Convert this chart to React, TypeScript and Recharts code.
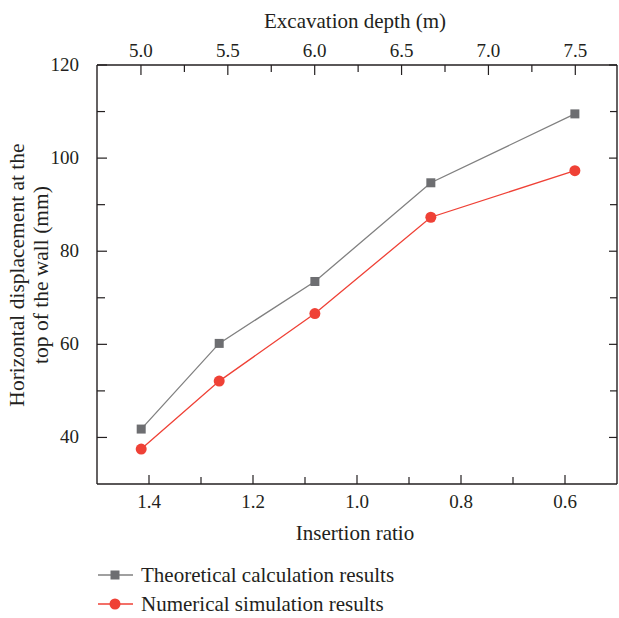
import React from "react";
import { LineChart, Line, XAxis, YAxis } from "recharts";

const RATIO = [1.415, 1.265, 1.081, 0.858, 0.581];
const DEPTH = [5.0, 5.45, 6.0, 6.67, 7.5];
const THEORETICAL = [41.8, 60.2, 73.5, 94.7, 109.5];
const NUMERICAL = [37.5, 52.1, 66.6, 87.3, 97.3];

const RATIO_TICKS = [1.4, 1.3, 1.2, 1.1, 1.0, 0.9, 0.8, 0.7, 0.6];
const DEPTH_TICKS = [5.0, 5.25, 5.5, 5.75, 6.0, 6.25, 6.5, 6.75, 7.0, 7.25, 7.5];
const DISP_TICKS = [40, 50, 60, 70, 80, 90, 100, 110, 120];

const data = RATIO.map((ratio, i) => ({
  ratio,
  depth: DEPTH[i],
  theoretical: THEORETICAL[i],
  numerical: NUMERICAL[i],
}));

const AXIS = "#231f20";
const GRAY = "#6d6e71";
const GRAY_LINE = "#808080";
const RED = "#ef4136";
const FONT = "'Liberation Serif', 'DejaVu Serif', serif";
const TICK_SIZE = 19;
const TITLE_SIZE = 21;

const isMajorRatio = (v: number) => Math.round(v * 10) % 2 === 0;
const isMajorDepth = (v: number) => Math.round(v * 100) % 50 === 0;
const isMajorDisp = (v: number) => v % 20 === 0;

function BottomTick({ x, y, payload }: any) {
  const major = isMajorRatio(payload.value);
  return (
    <g>
      <line x1={x} x2={x} y1={y} y2={y - (major ? 9 : 7)} stroke={AXIS} strokeWidth={1.2} />
      {major && (
        <text x={x} y={y + 24} textAnchor="middle" fontSize={TICK_SIZE} fill={AXIS} fontFamily={FONT}>
          {payload.value.toFixed(1)}
        </text>
      )}
    </g>
  );
}

function TopTick({ x, y, payload }: any) {
  const major = isMajorDepth(payload.value);
  return (
    <g>
      <line x1={x} x2={x} y1={y} y2={y + (major ? 10 : 7)} stroke={AXIS} strokeWidth={1.2} />
      {major && (
        <text x={x} y={y - 8} textAnchor="middle" fontSize={TICK_SIZE} fill={AXIS} fontFamily={FONT}>
          {payload.value.toFixed(1)}
        </text>
      )}
    </g>
  );
}

function LeftTick({ x, y, payload }: any) {
  const major = isMajorDisp(payload.value);
  return (
    <g>
      <line x1={x} x2={x + (major ? 10 : 8)} y1={y} y2={y} stroke={AXIS} strokeWidth={1.2} />
      {major && (
        <text x={x - 18} y={y + 6} textAnchor="end" fontSize={TICK_SIZE} fill={AXIS} fontFamily={FONT}>
          {payload.value}
        </text>
      )}
    </g>
  );
}

function RightTick({ x, y, payload }: any) {
  const major = isMajorDisp(payload.value);
  return <line x1={x} x2={x - (major ? 8 : 7)} y1={y} y2={y} stroke={AXIS} strokeWidth={1.2} />;
}

function SquareDot({ cx, cy, index }: any) {
  return <rect key={`sq-${index}`} x={cx - 4.5} y={cy - 4.5} width={9} height={9} fill={GRAY} />;
}

function CircleDot({ cx, cy, index }: any) {
  return <circle key={`ci-${index}`} cx={cx} cy={cy} r={5.5} fill={RED} />;
}

export default function App() {
  return (
    <div style={{ position: "relative", width: 619, height: 618, background: "#fff" }}>
      <style>{`body{margin:0}`}</style>
      <LineChart width={619} height={530} data={data} margin={{ top: 0, right: 0, bottom: 0, left: 0 }}>
        <XAxis
          xAxisId="bottom"
          dataKey="ratio"
          type="number"
          domain={[0.5, 1.5]}
          reversed
          ticks={RATIO_TICKS}
          interval={0}
          height={46}
          tickSize={0}
          tickMargin={0}
          tick={<BottomTick />}
          tickLine={false}
          axisLine={{ stroke: AXIS, strokeWidth: 1.4 }}
        />
        <XAxis
          xAxisId="top"
          orientation="top"
          dataKey="depth"
          type="number"
          domain={[4.747, 7.74]}
          allowDataOverflow
          ticks={DEPTH_TICKS}
          interval={0}
          height={65}
          tickSize={0}
          tickMargin={0}
          tick={<TopTick />}
          tickLine={false}
          axisLine={{ stroke: AXIS, strokeWidth: 1.4 }}
        />
        <YAxis
          yAxisId="left"
          type="number"
          domain={[30, 120]}
          allowDataOverflow
          ticks={DISP_TICKS}
          interval={0}
          width={97}
          tickSize={0}
          tickMargin={0}
          tick={<LeftTick />}
          tickLine={false}
          axisLine={{ stroke: AXIS, strokeWidth: 1.4 }}
        />
        <YAxis
          yAxisId="right"
          orientation="right"
          type="number"
          domain={[30, 120]}
          allowDataOverflow
          ticks={DISP_TICKS}
          interval={0}
          width={2}
          tickSize={0}
          tickMargin={0}
          tick={<RightTick />}
          tickLine={false}
          axisLine={{ stroke: AXIS, strokeWidth: 1.4 }}
        />
        <Line
          xAxisId="top"
          yAxisId="right"
          dataKey="theoretical"
          stroke="none"
          dot={false}
          activeDot={false}
          isAnimationActive={false}
        />
        <Line
          xAxisId="bottom"
          yAxisId="left"
          type="linear"
          dataKey="theoretical"
          stroke={GRAY_LINE}
          strokeWidth={1.3}
          dot={<SquareDot />}
          activeDot={false}
          isAnimationActive={false}
        />
        <Line
          xAxisId="bottom"
          yAxisId="left"
          type="linear"
          dataKey="numerical"
          stroke={RED}
          strokeWidth={1.3}
          dot={<CircleDot />}
          activeDot={false}
          isAnimationActive={false}
        />
      </LineChart>
      <svg
        width={619}
        height={618}
        style={{ position: "absolute", left: 0, top: 0, pointerEvents: "none" }}
        fontFamily={FONT}
        fill={AXIS}
      >
        <text x={355} y={28} textAnchor="middle" fontSize={TITLE_SIZE}>
          Excavation depth (m)
        </text>
        <text x={355} y={540} textAnchor="middle" fontSize={TITLE_SIZE}>
          Insertion ratio
        </text>
        <text transform="translate(24,275) rotate(-90)" textAnchor="middle" fontSize={21.5}>
          Horizontal displacement at the
        </text>
        <text transform="translate(48,275) rotate(-90)" textAnchor="middle" fontSize={21.5}>
          top of the wall (mm)
        </text>
        <line x1={98} x2={133} y1={575} y2={575} stroke={GRAY_LINE} strokeWidth={1.3} />
        <rect x={110.5} y={570.5} width={9} height={9} fill={GRAY} />
        <text x={141} y={582} fontSize={TITLE_SIZE}>
          Theoretical calculation results
        </text>
        <line x1={98} x2={133} y1={604} y2={604} stroke={RED} strokeWidth={1.3} />
        <circle cx={115} cy={604} r={5.5} fill={RED} />
        <text x={141} y={611} fontSize={TITLE_SIZE}>
          Numerical simulation results
        </text>
      </svg>
    </div>
  );
}
